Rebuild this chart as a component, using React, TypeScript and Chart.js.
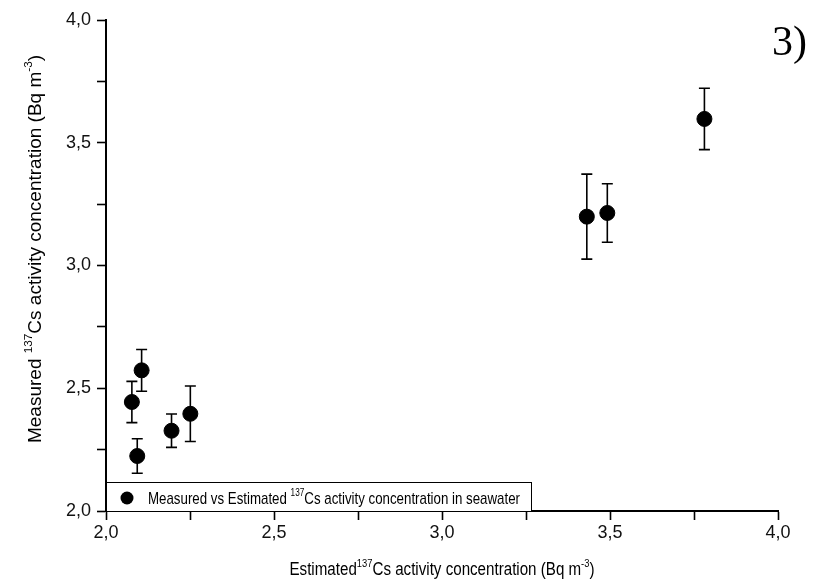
import React, { useEffect, useRef } from 'react';
import { Chart, registerables } from 'chart.js';

Chart.register(...registerables);

// ---- data ----
const estimated = [2.077, 2.106, 2.093, 2.195, 2.251, 3.431, 3.492, 3.781];
const measured = [2.444, 2.573, 2.224, 2.327, 2.396, 3.199, 3.214, 3.597];
const measuredErr = [0.084, 0.085, 0.07, 0.068, 0.113, 0.173, 0.119, 0.125];

const axisMin = 2.0;
const axisMax = 4.0;
const minorStep = 0.25;
const majorStep = 0.5;

type Part = { t: string; sup?: boolean };
const xTitleParts: Part[] = [
  { t: 'Estimated' },
  { t: '137', sup: true },
  { t: 'Cs activity concentration (Bq m' },
  { t: '-3', sup: true },
  { t: ')' },
];
const yTitleParts: Part[] = [
  { t: 'Measured ' },
  { t: '137', sup: true },
  { t: 'Cs activity concentration (Bq m' },
  { t: '-3', sup: true },
  { t: ')' },
];
const legendParts: Part[] = [
  { t: 'Measured vs Estimated ' },
  { t: '137', sup: true },
  { t: 'Cs activity concentration in seawater' },
];
const panelLabel = '3)';

const SANS = '"Liberation Sans", Arial, Helvetica, sans-serif';
const SERIF = '"Liberation Serif", "Times New Roman", serif';

function richWidth(ctx: CanvasRenderingContext2D, parts: Part[], size: number) {
  let w = 0;
  for (const p of parts) {
    ctx.font = `${p.sup ? size * 0.62 : size}px ${SANS}`;
    w += ctx.measureText(p.t).width;
  }
  return w;
}

function drawRich(
  ctx: CanvasRenderingContext2D,
  parts: Part[],
  x: number,
  y: number,
  size: number,
  align: 'left' | 'center',
  sx = 1
) {
  const total = richWidth(ctx, parts, size);
  ctx.save();
  ctx.translate(x, y);
  ctx.scale(sx, 1);
  let cx = align === 'center' ? -total / 2 : 0;
  ctx.textAlign = 'left';
  ctx.textBaseline = 'alphabetic';
  ctx.fillStyle = '#000';
  for (const p of parts) {
    const s = p.sup ? size * 0.62 : size;
    ctx.font = `${s}px ${SANS}`;
    ctx.fillText(p.t, cx, p.sup ? -size * 0.45 : 0);
    cx += ctx.measureText(p.t).width;
  }
  ctx.restore();
}

const fmt = (v: number) => v.toFixed(1).replace('.', ',');

const decorPlugin = {
  id: 'decor',
  afterDatasetsDraw(chart: any) {
    const ctx: CanvasRenderingContext2D = chart.ctx;
    const xs = chart.scales.x;
    const ys = chart.scales.y;
    const area = chart.chartArea;

    // error bars
    ctx.save();
    ctx.strokeStyle = '#000';
    ctx.lineWidth = 1.6;
    for (let i = 0; i < estimated.length; i++) {
      const px = xs.getPixelForValue(estimated[i]);
      const top = ys.getPixelForValue(measured[i] + measuredErr[i]);
      const bot = ys.getPixelForValue(measured[i] - measuredErr[i]);
      ctx.beginPath();
      ctx.moveTo(px, top);
      ctx.lineTo(px, bot);
      ctx.moveTo(px - 5.5, top);
      ctx.lineTo(px + 5.5, top);
      ctx.moveTo(px - 5.5, bot);
      ctx.lineTo(px + 5.5, bot);
      ctx.stroke();
    }
    ctx.restore();

    // legend box
    const lx0 = area.left;
    const lx1 = 531;
    const ly0 = 482;
    const ly1 = area.bottom;
    ctx.save();
    ctx.fillStyle = '#fff';
    ctx.fillRect(lx0, ly0, lx1 - lx0, ly1 - ly0);
    ctx.strokeStyle = '#000';
    ctx.lineWidth = 1;
    ctx.strokeRect(lx0 + 0.5, ly0 + 0.5, lx1 - lx0, ly1 - ly0);
    ctx.fillStyle = '#000';
    ctx.beginPath();
    ctx.arc(127, 498, 6.5, 0, Math.PI * 2);
    ctx.fill();
    const lw = richWidth(ctx, legendParts, 17);
    drawRich(ctx, legendParts, 148, 504, 17, 'left', 372 / lw);
    ctx.restore();

    // axis titles
    const tw = richWidth(ctx, xTitleParts, 17.5);
    drawRich(ctx, xTitleParts, (area.left + area.right) / 2, 575, 17.5, 'center', 305 / tw);
    ctx.save();
    ctx.translate(41, 249);
    ctx.rotate(-Math.PI / 2);
    drawRich(ctx, yTitleParts, 0, 0, 19, 'center');
    ctx.restore();

    // panel label
    ctx.save();
    ctx.font = `42px ${SERIF}`;
    ctx.fillStyle = '#000';
    ctx.textAlign = 'right';
    ctx.textBaseline = 'alphabetic';
    ctx.fillText(panelLabel, 807, 55);
    ctx.restore();
  },
};

export default function App() {
  const ref = useRef<HTMLCanvasElement | null>(null);

  useEffect(() => {
    document.body.style.margin = '0';
    const canvas = ref.current;
    if (!canvas) return;
    const axisCommon = {
      type: 'linear' as const,
      min: axisMin,
      max: axisMax,
      border: { display: true, color: '#000', width: 2 },
      grid: {
        drawOnChartArea: false,
        drawTicks: true,
        tickLength: 9,
        tickWidth: 1.6,
        tickColor: '#000',
      },
      ticks: {
        stepSize: minorStep,
        autoSkip: false,
        color: '#111',
        font: { family: SANS, size: 18 },
        callback: (v: any) => {
          const n = Number(v);
          return Math.abs(n / majorStep - Math.round(n / majorStep)) < 1e-6 ? fmt(n) : '';
        },
      },
    };
    const chart = new Chart(canvas, {
      type: 'scatter',
      data: {
        datasets: [
          {
            label: 'Measured vs Estimated 137Cs activity concentration in seawater',
            data: estimated.map((x, i) => ({ x, y: measured[i] })),
            backgroundColor: '#000',
            borderColor: '#000',
            pointRadius: 7.5,
            pointHoverRadius: 7.5,
          },
        ],
      },
      options: {
        responsive: false,
        animation: false,
        devicePixelRatio: 1,
        layout: { padding: { left: 0, top: 20, right: 39, bottom: 0 } },
        plugins: {
          legend: { display: false },
          tooltip: { enabled: false },
          title: { display: false },
        },
        scales: {
          x: {
            ...axisCommon,
            position: 'bottom',
            ticks: { ...axisCommon.ticks, padding: 2 },
            afterFit: (s: any) => {
              s.height = 72;
            },
          },
          y: {
            ...axisCommon,
            position: 'left',
            ticks: { ...axisCommon.ticks, padding: 6 },
            afterFit: (s: any) => {
              s.width = 106;
            },
          },
        },
      } as any,
      plugins: [decorPlugin],
    });
    return () => chart.destroy();
  }, []);

  return (
    <div style={{ position: 'absolute', left: 0, top: 0, width: 817, height: 583, background: '#fff' }}>
      <canvas ref={ref} width={817} height={583} style={{ display: 'block' }} />
    </div>
  );
}
